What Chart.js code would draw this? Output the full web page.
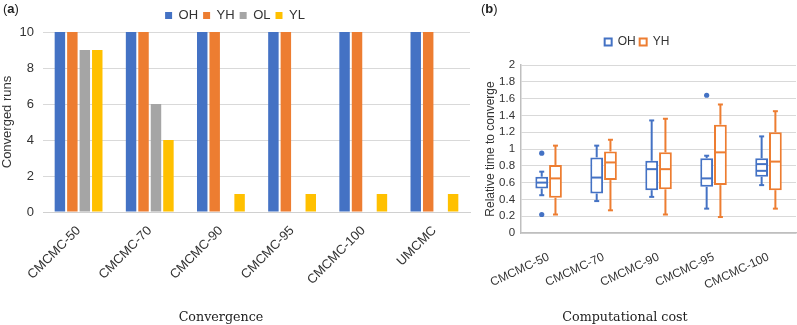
<!DOCTYPE html>
<html>
<head>
<meta charset="utf-8">
<script src="https://cdn.jsdelivr.net/npm/chart.js@4.4.1/dist/chart.umd.min.js"></script>
<style>
  body { margin: 0; background: #fff; }
  #wrap { position: relative; width: 797px; height: 325px; overflow: hidden; }
  canvas { position: absolute; top: 0; }
  #convA { left: 0; }
  #costB { left: 478px; }
  .tag { position: absolute; top: 1px; font: 13px "Liberation Sans", Arial, sans-serif; color: #222; }
  .tag b { font-weight: bold; }
  .cap { position: absolute; top: 309px; font: 12.7px "DejaVu Serif", "Liberation Serif", serif; color: #222; transform: translateX(-50%); white-space: nowrap; }
</style>
</head>
<body>
<div id="wrap">
  <canvas id="convA" width="476" height="325"></canvas>
  <canvas id="costB" width="319" height="325"></canvas>
  <div class="tag" style="left:3px">(<b>a</b>)</div>
  <div class="tag" style="left:481px">(<b>b</b>)</div>
  <div class="cap" style="left:221px">Convergence</div>
  <div class="cap" style="left:625px">Computational cost</div>
</div>
<script>
// panel (a): converged runs out of 10
const runLabels = ['CMCMC-50', 'CMCMC-70', 'CMCMC-90', 'CMCMC-95', 'CMCMC-100', 'UMCMC'];
const ohRuns = [10, 10, 10, 10, 10, 10];
const yhRuns = [10, 10, 10, 10, 10, 10];
const olRuns = [9, 6, 0, 0, 0, 0];
const ylRuns = [9, 4, 1, 1, 1, 1];

// panel (b): relative time to converge, box stats
const costLabels = ['CMCMC-50', 'CMCMC-70', 'CMCMC-90', 'CMCMC-95', 'CMCMC-100'];
const ohMin = [0.45, 0.38, 0.43, 0.29, 0.57];
const ohQ1  = [0.53, 0.47, 0.51, 0.55, 0.67];
const ohMed = [0.60, 0.66, 0.76, 0.65, 0.74];
const ohQ3  = [0.67, 0.90, 0.86, 0.89, 0.89];
const ohMax = [0.73, 1.04, 1.34, 0.92, 1.15];
const ohMean = [null, null, null, null, 0.82];
const ohOut = [[0.95, 0.22], [], [], [1.64], []];
const yhMin = [0.22, 0.27, 0.22, 0.19, 0.29];
const yhQ1  = [0.42, 0.63, 0.52, 0.57, 0.51];
const yhMed = [0.65, 0.84, 0.76, 0.96, 0.85];
const yhQ3  = [0.81, 0.97, 0.96, 1.29, 1.20];
const yhMax = [1.04, 1.11, 1.36, 1.53, 1.45];
const yhMean = [null, null, null, null, null];
const yhOut = [[], [], [], [], []];

const BLUE = '#4472C4', ORANGE = '#ED7D31', GREY = '#A5A5A5', GOLD = '#FFC000';
const SANS = '"Liberation Sans", Arial, sans-serif';

Chart.defaults.font.family = SANS;
Chart.defaults.color = '#333';

new Chart(document.getElementById('convA'), {
  type: 'bar',
  data: {
    labels: runLabels,
    datasets: [
      { label: 'OH', data: ohRuns, backgroundColor: BLUE },
      { label: 'YH', data: yhRuns, backgroundColor: ORANGE },
      { label: 'OL', data: olRuns, backgroundColor: GREY },
      { label: 'YL', data: ylRuns, backgroundColor: GOLD }
    ]
  },
  options: {
    responsive: false,
    animation: false,
    categoryPercentage: 0.7,
    barPercentage: 0.84,
    layout: { padding: { top: 4, right: 6 } },
    plugins: {
      tooltip: { enabled: false },
      legend: {
        labels: { boxWidth: 7, boxHeight: 7, padding: 5, font: { size: 13 } }
      }
    },
    scales: {
      x: {
        grid: { display: false },
        border: { color: '#d0d0d0' },
        ticks: { font: { size: 13 }, minRotation: 45, maxRotation: 45 },
        afterFit: s => { s.height = 113; }
      },
      y: {
        min: 0, max: 10,
        ticks: { stepSize: 2, font: { size: 13 }, padding: 9 },
        grid: { color: '#d9d9d9', drawTicks: false },
        border: { display: false },
        title: { display: true, text: 'Converged runs', font: { size: 13 }, padding: { top: 0, bottom: 2 } },
        afterFit: s => { s.width = 43; }
      }
    }
  }
});

// extra room between the legend and the plot of panel (b)
const legendGap = {
  id: 'legendGap',
  beforeInit(chart) {
    const fit = chart.legend.fit;
    chart.legend.fit = function () {
      fit.call(this);
      this.height += 7;
    };
  }
};

// whiskers, medians and outlier dots on top of the floating q1..q3 bars
const boxWhiskers = {
  id: 'boxWhiskers',
  afterDatasetsDraw(chart) {
    const { ctx, scales: { y } } = chart;
    chart.data.datasets.forEach((ds, d) => {
      const meta = chart.getDatasetMeta(d);
      ctx.save();
      ctx.strokeStyle = ds.borderColor;
      ctx.fillStyle = ds.borderColor;
      ctx.lineWidth = 2;
      meta.data.forEach((bar, i) => {
        const x = bar.x, half = bar.width / 2 - 1;
        const line = (x1, y1, x2, y2) => {
          ctx.beginPath(); ctx.moveTo(x1, y1); ctx.lineTo(x2, y2); ctx.stroke();
        };
        const pMin = y.getPixelForValue(ds.stats.min[i]);
        const pMax = y.getPixelForValue(ds.stats.max[i]);
        const pQ1 = y.getPixelForValue(ds.data[i][0]);
        const pQ3 = y.getPixelForValue(ds.data[i][1]);
        line(x, pQ3, x, pMax);
        line(x, pQ1, x, pMin);
        line(x - 2.5, pMax, x + 2.5, pMax);
        line(x - 2.5, pMin, x + 2.5, pMin);
        const pMed = y.getPixelForValue(ds.stats.med[i]);
        line(x - half, pMed, x + half, pMed);
        if (ds.stats.mean[i] != null) {
          const pMean = y.getPixelForValue(ds.stats.mean[i]);
          line(x - half, pMean, x + half, pMean);
        }
        ds.stats.out[i].forEach(v => {
          ctx.beginPath();
          ctx.arc(x, y.getPixelForValue(v), 2.6, 0, Math.PI * 2);
          ctx.fill();
        });
      });
      ctx.restore();
    });
  }
};

new Chart(document.getElementById('costB'), {
  type: 'bar',
  data: {
    labels: costLabels,
    datasets: [
      {
        label: 'OH',
        data: costLabels.map((_, i) => [ohQ1[i], ohQ3[i]]),
        stats: { min: ohMin, med: ohMed, max: ohMax, mean: ohMean, out: ohOut },
        backgroundColor: '#fff', borderColor: BLUE, borderWidth: 2, borderSkipped: false
      },
      {
        label: 'YH',
        data: costLabels.map((_, i) => [yhQ1[i], yhQ3[i]]),
        stats: { min: yhMin, med: yhMed, max: yhMax, mean: yhMean, out: yhOut },
        backgroundColor: '#fff', borderColor: ORANGE, borderWidth: 2, borderSkipped: false
      }
    ]
  },
  options: {
    responsive: false,
    animation: false,
    categoryPercentage: 0.5,
    barPercentage: 0.93,
    layout: { padding: { top: 32, right: 1 } },
    plugins: {
      tooltip: { enabled: false },
      legend: {
        labels: { boxWidth: 7, boxHeight: 7, padding: 4, font: { size: 12 } }
      }
    },
    scales: {
      x: {
        grid: { display: false },
        border: { color: '#bfbfbf', width: 1.5 },
        ticks: { font: { size: 12 }, minRotation: 25, maxRotation: 25, padding: 9 },
        afterFit: s => { s.height = 92; }
      },
      y: {
        min: 0, max: 2,
        ticks: { stepSize: 0.2, font: { size: 11.5 }, padding: 6, callback: v => String(Math.round(v * 10) / 10) },
        grid: { color: '#d9d9d9', drawTicks: false },
        border: { color: '#bfbfbf', width: 1.5 },
        title: { display: true, text: 'Relative time to converge', font: { size: 12 }, padding: { top: 4, bottom: 2 } },
        afterFit: s => { s.width = 42; }
      }
    }
  },
  plugins: [legendGap, boxWhiskers]
});
</script>
</body>
</html>
